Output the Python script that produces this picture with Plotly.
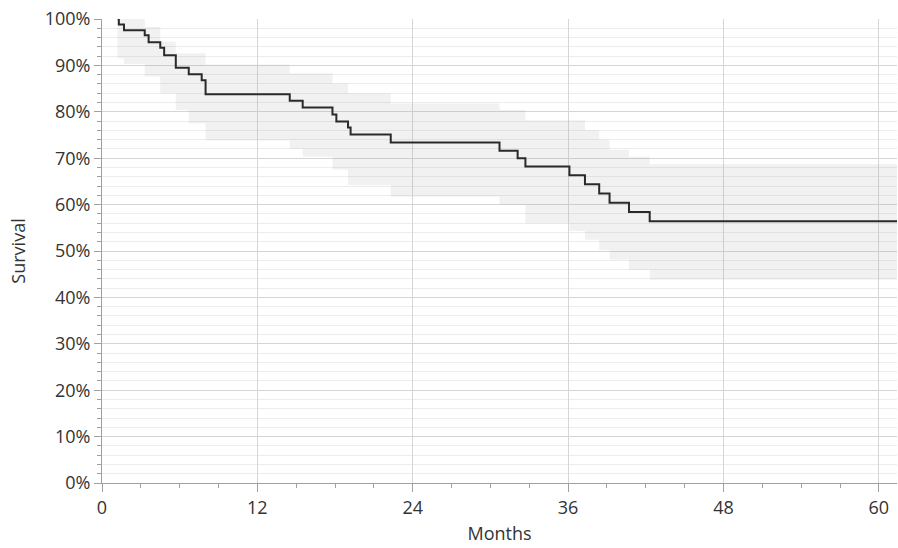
import plotly.graph_objects as go

# ---- data ----
start_time = 1.2
end_time = 61.4
event_months = [1.3, 1.7, 3.3, 3.6, 4.5, 4.8, 5.7, 6.7, 7.7, 8.0,
                14.5, 15.5, 17.8, 18.1, 19.0, 19.2, 22.3,
                30.7, 32.1, 32.7, 36.1, 37.3, 38.4, 39.2, 40.7, 42.3]
survival = [98.8, 97.6, 96.5, 95.0, 93.8, 92.2, 89.5, 88.1, 86.8, 83.8,
            82.4, 80.9, 79.4, 77.9, 76.6, 75.1, 73.4,
            71.6, 70.0, 68.2, 66.3, 64.4, 62.4, 60.4, 58.4, 56.4]
upper_ci = [100, 100, 98.3, 98.3, 95.1, 95.1, 92.6, 92.6, 92.6, 90.2,
            88.3, 88.3, 86.1, 86.1, 84.0, 84.0, 81.8,
            80.4, 80.4, 78.2, 78.2, 76.0, 74.0, 71.8, 70.3, 68.7]
lower_ci = [91.5, 90.3, 87.6, 87.6, 84.0, 84.0, 80.4, 77.5, 77.5, 73.8,
            72.0, 70.3, 67.5, 67.5, 64.2, 64.2, 61.7,
            59.9, 59.9, 56.0, 54.3, 52.4, 50.2, 48.1, 45.9, 43.8]
start_upper = 100
start_lower = 91.5
x_ticks = [0, 12, 24, 36, 48, 60]
y_ticks = [0, 10, 20, 30, 40, 50, 60, 70, 80, 90, 100]
y_tick_labels = ["0%", "10%", "20%", "30%", "40%", "50%", "60%", "70%", "80%", "90%", "100%"]

xs = [start_time] + event_months + [end_time]
ys = [100] + survival + [survival[-1]]
ups = [start_upper] + upper_ci + [upper_ci[-1]]
lows = [start_lower] + lower_ci + [lower_ci[-1]]

FONT = "Open Sans, Noto Sans, sans-serif"

fig = go.Figure()
fig.add_trace(go.Scatter(x=xs, y=lows, mode="lines", line=dict(width=0, shape="hv"),
                         hoverinfo="skip", showlegend=False))
fig.add_trace(go.Scatter(x=xs, y=ups, mode="lines", line=dict(width=0, shape="hv"),
                         fill="tonexty", fillcolor="rgba(170,170,170,0.16)",
                         hoverinfo="skip", showlegend=False))
fig.add_trace(go.Scatter(x=xs, y=ys, mode="lines",
                         line=dict(color="#2a2a2a", width=2, shape="hv"),
                         showlegend=False))

fig.update_layout(
    width=898, height=548,
    margin=dict(l=102, r=1, t=19, b=65),
    paper_bgcolor="white", plot_bgcolor="white",
    font=dict(family=FONT, size=18, color="#333333"),
)
fig.update_xaxes(
    range=[0, end_time], tickvals=x_ticks, showgrid=True, gridcolor="#d6d6d6", gridwidth=1,
    zeroline=False, showline=True, linecolor="#a0a0a0", linewidth=1,
    ticks="outside", ticklen=8, tickcolor="#a0a0a0", automargin=False,
    ticklabeloverflow="allow",
    minor=dict(dtick=3, tick0=0, ticks="outside", ticklen=4, tickcolor="#a0a0a0", showgrid=False),
    title=dict(text="Months", font=dict(size=18), standoff=9),
    tickfont=dict(size=18),
)
fig.update_yaxes(
    range=[0, 100], tickvals=y_ticks, ticktext=y_tick_labels, showgrid=True, gridcolor="#d4d4d4",
    gridwidth=1, zeroline=False, showline=True, linecolor="#a0a0a0", linewidth=1,
    ticks="outside", ticklen=7, tickcolor="#a0a0a0", automargin=False,
    ticklabeloverflow="allow",
    minor=dict(dtick=2, tick0=0, ticks="outside", ticklen=4, tickcolor="#a0a0a0",
               showgrid=True, gridcolor="#ececec", gridwidth=1),
    title=dict(text="Survival", font=dict(size=18), standoff=14),
    tickfont=dict(size=18),
)

# remove the browser's default 8px page margin so the figure fills the window
fig.write_html("out.html", config={"displayModeBar": False},
               post_script="document.body.style.margin='0';document.body.style.overflow='hidden';")
